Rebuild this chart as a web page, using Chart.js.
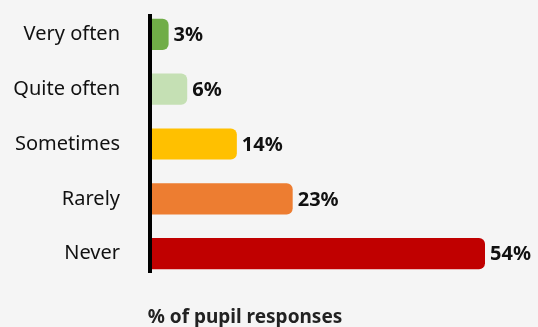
<!DOCTYPE html>
<html>
<head>
<meta charset="utf-8">
<script src="https://cdn.jsdelivr.net/npm/chart.js@4/dist/chart.umd.min.js"></script>
<style>
  html, body { margin: 0; padding: 0; background: #f5f5f5; }
  #wrap { width: 538px; height: 327px; position: relative; }
</style>
</head>
<body>
<div id="wrap"><canvas id="chart"></canvas></div>
<script>
// How often pupils report it happening
const categories = ["Very often", "Quite often", "Sometimes", "Rarely", "Never"];
const percentages = [3, 6, 14, 23, 54];
const barColours = ["#70ad47", "#c5e0b4", "#ffc000", "#ed7d31", "#c00000"];
const axisTitle = "% of pupil responses";

const FONT = "'Noto Sans', 'Open Sans', sans-serif";

// Value labels at the end of each bar, plus the baseline and axis title
const decorations = {
  id: "decorations",
  afterDatasetsDraw(chart) {
    const ctx = chart.ctx;
    const area = chart.chartArea;
    const x = chart.scales.x;
    const meta = chart.getDatasetMeta(0);
    ctx.save();
    ctx.font = "bold 20px " + FONT;
    ctx.fillStyle = "#111";
    ctx.textAlign = "left";
    ctx.textBaseline = "middle";
    meta.data.forEach((bar, i) => {
      ctx.fillText(percentages[i] + "%", bar.x + 5, bar.y + 1);
    });
    // zero baseline, a little shorter than the plot
    const x0 = x.getPixelForValue(0);
    ctx.fillStyle = "#000";
    ctx.fillRect(x0 - 2, area.top + 7, 4, area.bottom - area.top - 15);
    ctx.font = "bold 19px " + FONT;
    ctx.fillStyle = "#222";
    ctx.textAlign = "center";
    ctx.fillText(axisTitle, 245, 318);
    ctx.restore();
  }
};

new Chart(document.getElementById("chart"), {
  type: "bar",
  data: {
    labels: categories,
    datasets: [{
      data: percentages,
      backgroundColor: barColours,
      borderRadius: 6,
      borderSkipped: "start",
      categoryPercentage: 1,
      barPercentage: 0.57
    }]
  },
  options: {
    indexAxis: "y",
    responsive: true,
    maintainAspectRatio: false,
    animation: false,
    layout: { padding: { top: 7, right: 53, bottom: 46, left: 0 } },
    plugins: { legend: { display: false }, tooltip: { enabled: false } },
    scales: {
      x: { display: false, min: 0, max: 54 },
      y: {
        afterFit(scale) {
          scale.width = 150;
          scale.paddingTop = 0;
          scale.paddingBottom = 0;
        },
        border: { display: false },
        grid: { display: false, drawTicks: false },
        ticks: { padding: 30, color: "#111", font: { family: FONT, size: 20 } }
      }
    }
  },
  plugins: [decorations]
});
</script>
</body>
</html>
